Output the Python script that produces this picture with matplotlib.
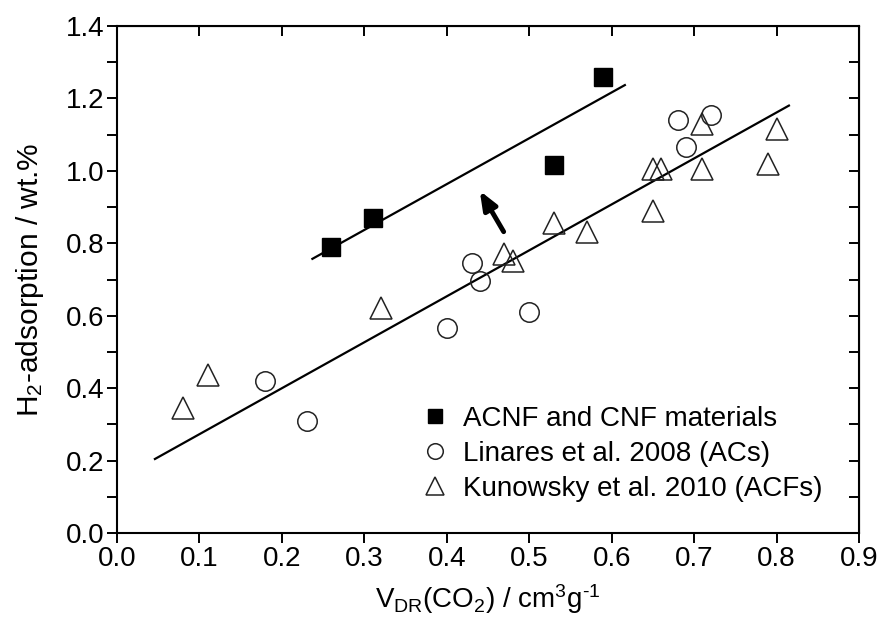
import numpy as np
import matplotlib
matplotlib.use('Agg')
import matplotlib.pyplot as plt
from matplotlib.ticker import MultipleLocator, FormatStrFormatter

plt.rcParams['font.family'] = ['Liberation Sans', 'DejaVu Sans']
plt.rcParams['mathtext.fontset'] = 'custom'
plt.rcParams['mathtext.rm'] = 'Liberation Sans'
plt.rcParams['mathtext.it'] = 'Liberation Sans:italic'
plt.rcParams['mathtext.default'] = 'regular'

# ACNF and CNF materials (this work)
acnf_x = [0.26, 0.31, 0.53, 0.59]
acnf_y = [0.79, 0.87, 1.015, 1.26]

# Linares et al. 2008 (ACs)
lin_x = [0.18, 0.23, 0.40, 0.43, 0.44, 0.50, 0.68, 0.69, 0.72]
lin_y = [0.42, 0.31, 0.565, 0.745, 0.695, 0.61, 1.14, 1.065, 1.155]

# Kunowsky et al. 2010 (ACFs)
kun_x = [0.08, 0.11, 0.32, 0.47, 0.48, 0.53, 0.57, 0.65, 0.65, 0.66, 0.71, 0.71, 0.79, 0.80]
kun_y = [0.345, 0.435, 0.62, 0.77, 0.75, 0.855, 0.83, 0.89, 1.005, 1.005, 1.005, 1.13, 1.02, 1.115]

# fitted lines: (x start, x end), slope, intercept
upper_range = [0.237, 0.616]
upper_fit = (1.266, 0.457)
lower_range = [0.046, 0.815]
lower_fit = (1.269, 0.146)

# arrow tail -> head
arrow_tail = (0.469, 0.832)
arrow_head = (0.440, 0.945)

fs = 20

fig = plt.figure(figsize=(8.81, 6.28), dpi=100)
ax = fig.add_axes([117/881, 1 - 533/628, (859 - 117)/881, (533 - 26)/628])

ax.plot(upper_range, [upper_fit[1] + upper_fit[0]*x for x in upper_range], color='black', lw=1.6)
ax.plot(lower_range, [lower_fit[1] + lower_fit[0]*x for x in lower_range], color='black', lw=1.6)

ax.plot(lin_x, lin_y, 'o', ms=14, mfc='none', mec='#222222', mew=1.1, ls='none',
        label='Linares et al. 2008 (ACs)')
ax.plot(kun_x, kun_y, '^', ms=16, mfc='none', mec='#222222', mew=1.1, ls='none',
        label='Kunowsky et al. 2010 (ACFs)')
ax.plot(acnf_x, acnf_y, 's', ms=12.5, mfc='black', mec='black', ls='none',
        label='ACNF and CNF materials')

ax.annotate('', xy=arrow_head, xytext=arrow_tail,
            arrowprops=dict(arrowstyle='-|>,head_length=0.55,head_width=0.22', color='black', lw=3.5,
                            mutation_scale=20, shrinkA=0, shrinkB=0))

ax.set_xlim(0.0, 0.9)
ax.set_ylim(0.0, 1.4)
ax.xaxis.set_major_locator(MultipleLocator(0.1))
ax.yaxis.set_major_locator(MultipleLocator(0.2))
ax.yaxis.set_minor_locator(MultipleLocator(0.1))
ax.xaxis.set_major_formatter(FormatStrFormatter('%.1f'))
ax.yaxis.set_major_formatter(FormatStrFormatter('%.1f'))
ax.tick_params(which='both', direction='out', length=7, width=1.4, labelsize=fs, top=False, right=False)
ax.tick_params(axis='x', pad=2)
ax.tick_params(axis='y', pad=2)
for s in ax.spines.values():
    s.set_linewidth(1.5)

top = ax.secondary_xaxis('top')
top.xaxis.set_major_locator(MultipleLocator(0.1))
top.tick_params(direction='in', length=7, width=1.4, labeltop=False)
right = ax.secondary_yaxis('right')
right.yaxis.set_major_locator(MultipleLocator(0.1))
right.tick_params(direction='in', length=7, width=1.4, labelright=False)

ax.set_xlabel(r'V$_{DR}$(CO$_2$) / cm$^3$g$^{\text{-1}}$', fontsize=fs, labelpad=8)
ax.set_ylabel(r'H$_2$-adsorption / wt.%', fontsize=21.5, labelpad=14)

handles, labels = ax.get_legend_handles_labels()
order = [2, 0, 1]
ax.legend([handles[i] for i in order], [labels[i] for i in order],
          loc='upper left', bbox_to_anchor=((421 - 117)/742, (533 - 406)/507), frameon=False, fontsize=fs,
          markerscale=0.8, handlelength=1.0, handletextpad=0.5, labelspacing=0.32,
          borderaxespad=0, borderpad=0)

fig.savefig('out.png', dpi=100)
